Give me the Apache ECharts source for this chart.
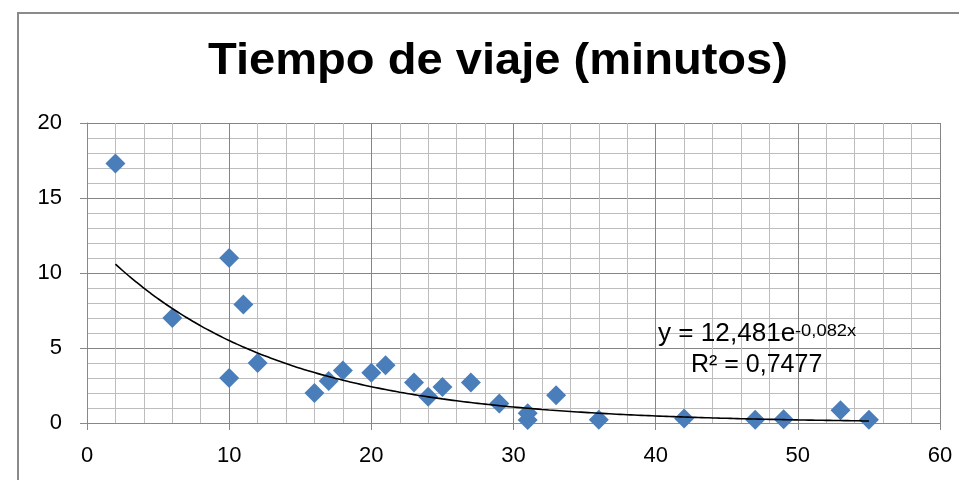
<!DOCTYPE html>
<html>
<head>
<meta charset="utf-8">
<script src="https://cdn.jsdelivr.net/npm/echarts@6/dist/echarts.min.js"></script>
<style>html,body{margin:0;padding:0;background:#fff;}#c{width:959px;height:480px;}</style>
</head>
<body>
<div id="c"></div>
<script>
const titleText = 'Tiempo de viaje (minutos)';
const xValues = [2, 6, 10, 10, 11, 12, 16, 17, 18, 20, 21, 23, 24, 25, 27, 29, 31, 31, 33, 36, 42, 47, 49, 53, 55];
const yValues = [17.3, 7.0, 11.0, 3.0, 7.9, 4.0, 2.0, 2.8, 3.5, 3.35, 3.85, 2.7, 1.75, 2.4, 2.7, 1.3, 0.65, 0.2, 1.85, 0.22, 0.3, 0.22, 0.25, 0.85, 0.22];
const trendA = 12.481;
const trendB = -0.082;
const trendXStart = 2;
const trendXEnd = 55;
const eqMain = 'y = 12,481e';
const eqExp = '-0,082x';
const eqR2 = 'R² = 0,7477';
const xTicks = [0, 10, 20, 30, 40, 50, 60];
const yTicks = [0, 5, 10, 15, 20];

const scatterData = xValues.map((x, i) => [x, yValues[i]]);
const trendData = [];
for (let x = trendXStart; x <= trendXEnd + 1e-9; x += 0.5) {
  trendData.push([x, trendA * Math.exp(trendB * x)]);
}

const FONT = "'Liberation Sans', Arial, sans-serif";
const chart = echarts.init(document.getElementById('c'), null, {renderer: 'canvas'});
chart.setOption({
  backgroundColor: '#ffffff',
  animation: false,
  grid: {left: 87, right: 19, top: 123, bottom: 57, containLabel: false},
  xAxis: {
    type: 'value', min: xTicks[0], max: xTicks[xTicks.length - 1], interval: 10,
    axisLine: {show: true, lineStyle: {color: '#888888', width: 1}},
    axisTick: {show: true, inside: false, length: 7, lineStyle: {color: '#888888'}},
    axisLabel: {color: '#000', fontSize: 22, fontFamily: FONT, margin: 22},
    splitLine: {show: true, lineStyle: {color: '#858585', width: 1}},
    minorTick: {show: false, splitNumber: 5},
    minorSplitLine: {show: true, lineStyle: {color: '#bdbdbd', width: 1}}
  },
  yAxis: {
    type: 'value', min: yTicks[0], max: yTicks[yTicks.length - 1], interval: 5,
    axisLine: {show: true, lineStyle: {color: '#888888', width: 1}},
    axisTick: {show: true, inside: false, length: 7, lineStyle: {color: '#888888'}},
    axisLabel: {color: '#000', fontSize: 22, fontFamily: FONT, margin: 25},
    splitLine: {show: true, lineStyle: {color: '#858585', width: 1}},
    minorTick: {show: false, splitNumber: 5},
    minorSplitLine: {show: true, lineStyle: {color: '#bdbdbd', width: 1}}
  },
  series: [
    {
      type: 'scatter', data: scatterData, symbol: 'diamond', symbolSize: 20,
      itemStyle: {color: '#4a7ebb', opacity: 1}, z: 2
    },
    {
      type: 'line', data: trendData, showSymbol: false, symbol: 'none', smooth: true,
      lineStyle: {color: '#000', width: 1.6}, z: 3
    }
  ],
  graphic: [
    {type: 'rect', shape: {x: 18, y: 13, width: 1000, height: 600}, style: {fill: null, stroke: '#8a8a8a', lineWidth: 2}, z: 100},
    {type: 'text', x: 498, y: 62, scaleX: 1.07, style: {text: titleText, x: 0, y: 0, font: 'bold 44px ' + FONT, fill: '#000', align: 'center', verticalAlign: 'middle'}, z: 100},
    {type: 'text', x: 658, y: 334, scaleX: 1.045, style: {text: eqMain, x: 0, y: 0, font: '25px ' + FONT, fill: '#000', align: 'left', verticalAlign: 'middle'}, z: 100},
    {type: 'text', x: 795, y: 331, scaleX: 1.08, style: {text: eqExp, x: 0, y: 0, font: '17px ' + FONT, fill: '#000', align: 'left', verticalAlign: 'middle'}, z: 100},
    {type: 'text', x: 691, y: 365, style: {text: eqR2, x: 0, y: 0, font: '25px ' + FONT, fill: '#000', align: 'left', verticalAlign: 'middle'}, z: 100}
  ]
});
</script>
</body>
</html>
